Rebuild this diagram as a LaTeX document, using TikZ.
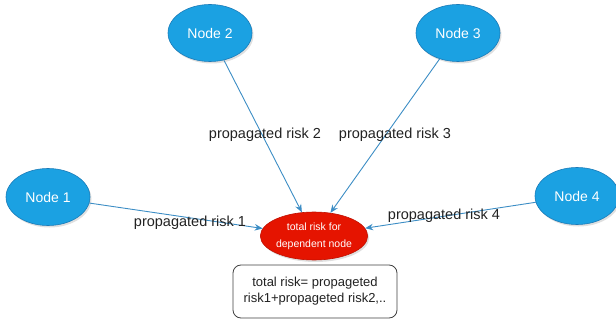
\documentclass[tikz,border=0pt]{standalone}
\usepackage{fontspec}
\setmainfont{Liberation Sans}
\usetikzlibrary{shapes.geometric,shadows,arrows.meta}
\definecolor{nblue}{HTML}{1BA1E2}
\definecolor{nblueb}{HTML}{1A7BB8}
\definecolor{nred}{HTML}{E51400}
\definecolor{nredb}{HTML}{C01000}
\definecolor{eblue}{HTML}{3C8DC5}
\definecolor{ltext}{HTML}{222222}
\begin{document}
\begin{tikzpicture}[x=1pt,y=-1pt,
  bnode/.style={ellipse, fill=nblue, draw=nblueb, line width=0.6pt,
    minimum width=84pt, minimum height=57pt, inner sep=0pt, text=white,
    font=\fontsize{14}{16}\selectfont,
    drop shadow={opacity=0.25, shadow xshift=1.5pt, shadow yshift=-2pt}},
  rnode/.style={ellipse, fill=nred, draw=nredb, line width=0.6pt,
    minimum width=79pt, minimum height=48pt, inner sep=0pt, text=white,
    align=center, font=\fontsize{10.5}{17}\selectfont,
    drop shadow={opacity=0.25, shadow xshift=1.5pt, shadow yshift=-2pt}},
  sumbox/.style={rectangle, rounded corners=8pt, draw=black!75, line width=0.8pt,
    fill=white, minimum width=164pt, minimum height=53pt, align=center,
    text=ltext, font=\fontsize{13}{16}\selectfont},
  elabel/.style={text=ltext, font=\fontsize{14.5}{16}\selectfont, inner sep=0pt},
  edge/.style={draw=eblue, line width=0.9pt, -{Stealth[length=8pt,width=6.5pt]}}
]
\useasboundingbox (0,0) rectangle (616,326);
\node[bnode] (n1) at (48,197) {Node 1};
\node[bnode] (n2) at (210,33) {Node 2};
\node[bnode] (n3) at (458,33) {Node 3};
\node[bnode] (n4) at (577,196) {Node 4};
\node[rnode] (r) at (314,236) {total risk for\\dependent node};
\node[sumbox] (s) at (315,291.5) {total risk= propageted\\risk1+propageted risk2,..};
\draw[edge] (n1) -- (r);
\draw[edge] (n2) -- (r);
\draw[edge] (n3) -- (r);
\draw[edge] (n4) -- (r);
\node[elabel] (l1) at (190,223) {propagated risk 1};
\node[elabel] (l2) at (265,135) {propagated risk 2};
\node[elabel] (l3) at (395,135) {propagated risk 3};
\node[elabel] (l4) at (444,216) {propagated risk 4};
\end{tikzpicture}
\end{document}
